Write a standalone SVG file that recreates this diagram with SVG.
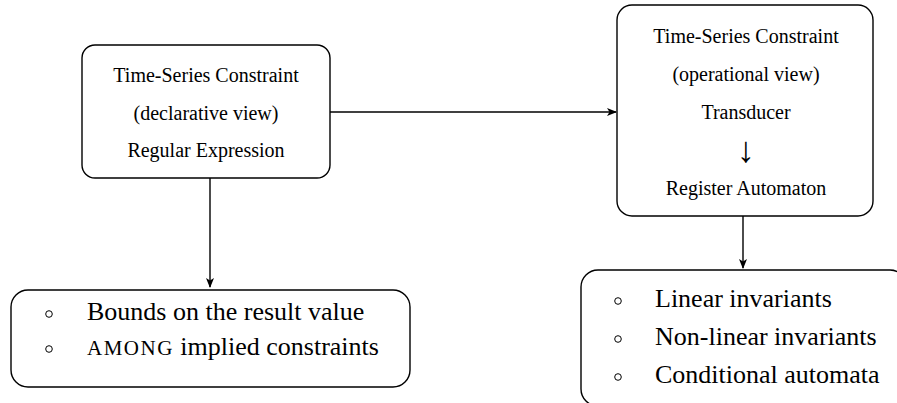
<svg xmlns="http://www.w3.org/2000/svg" width="897" height="403" viewBox="0 0 897 403">
<style>
.box{fill:#fff;stroke:#000;stroke-width:1.4}
.t{font-family:"Liberation Serif","Times New Roman",serif;font-size:20px;fill:#000;text-anchor:middle}
.b{font-family:"Liberation Serif","Times New Roman",serif;font-size:26px;fill:#000}
.sc{font-size:21px;letter-spacing:1.5px}
.arr{font-family:"Liberation Serif",serif;font-size:36px;fill:#000;text-anchor:middle}
.bul{fill:none;stroke:#000;stroke-width:1}
.c{stroke:#000;stroke-width:1.4;fill:none}
</style>
<defs>
<marker id="ah" viewBox="0 0 10 10" refX="9" refY="5" markerWidth="10" markerHeight="10" markerUnits="userSpaceOnUse" orient="auto">
<path d="M0,1 L10,5 L0,9 L2.5,5 Z" fill="#000"/>
</marker>
</defs>
<g id="connectors">
<line class="c" x1="330" y1="112" x2="616" y2="112" marker-end="url(#ah)"/>
<line class="c" x1="210" y1="178" x2="210" y2="287" marker-end="url(#ah)"/>
<line class="c" x1="743" y1="216" x2="743" y2="268" marker-end="url(#ah)"/>
</g>
<g id="declarative">
<rect class="box" x="82" y="45" width="248" height="133" rx="13"/>
<text class="t" x="206" y="82">Time-Series Constraint</text>
<text class="t" x="206" y="119.5">(declarative view)</text>
<text class="t" x="206" y="157">Regular Expression</text>
</g>
<g id="operational">
<rect class="box" x="617" y="5" width="256" height="211" rx="15"/>
<text class="t" x="746" y="43">Time-Series Constraint</text>
<text class="t" x="746" y="81">(operational view)</text>
<text class="t" x="746" y="119">Transducer</text>
<text class="arr" x="746" y="162">↓</text>
<text class="t" x="746" y="195">Register Automaton</text>
</g>
<g id="bounds">
<rect class="box" x="11" y="290" width="399" height="97" rx="17"/>
<circle class="bul" cx="49" cy="314" r="3.3"/>
<circle class="bul" cx="49" cy="349" r="3.3"/>
<text class="b" x="87" y="320">Bounds on the result value</text>
<text class="b" x="87" y="355"><tspan class="sc">AMONG</tspan> implied constraints</text>
</g>
<g id="invariants">
<rect class="box" x="581" y="270" width="326" height="136" rx="17"/>
<circle class="bul" cx="618" cy="301" r="3.3"/>
<circle class="bul" cx="618" cy="339" r="3.3"/>
<circle class="bul" cx="618" cy="377" r="3.3"/>
<text class="b" x="655" y="307">Linear invariants</text>
<text class="b" x="655" y="345">Non-linear invariants</text>
<text class="b" x="655" y="383">Conditional automata</text>
</g>
</svg>
